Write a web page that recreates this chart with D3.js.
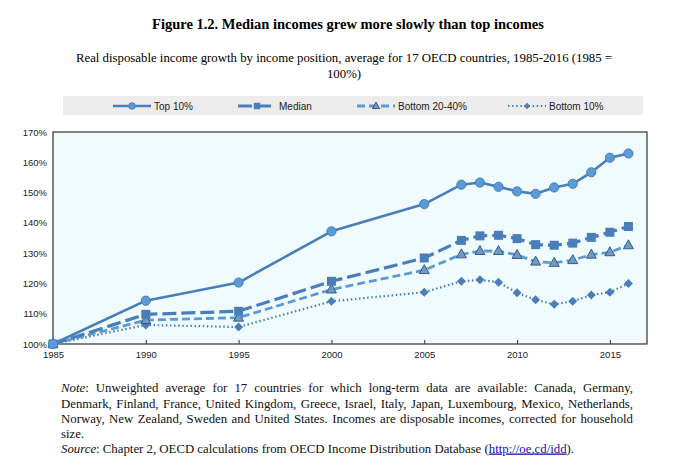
<!DOCTYPE html>
<html>
<head>
<meta charset="utf-8">
<script src="https://cdn.jsdelivr.net/npm/d3@7"></script>
<style>
  body { margin: 0; background: #fff; }
  svg { display: block; }
</style>
</head>
<body>
<svg id="chart" width="678" height="469"></svg>
<script>
// Data (1985 = 100%)
const years = [1985, 1990, 1995, 2000, 2005, 2007, 2008, 2009, 2010, 2011, 2012, 2013, 2014, 2015, 2016];
const top10 = [100, 114.3, 120.3, 137.2, 146.2, 152.6, 153.3, 151.9, 150.4, 149.6, 151.7, 152.9, 156.7, 161.5, 162.9];
const median = [100, 109.8, 110.8, 120.7, 128.4, 134.2, 135.7, 135.9, 134.8, 132.8, 132.6, 133.3, 135.2, 136.9, 138.8];
const bottom2040 = [100, 107.9, 108.7, 118.0, 124.4, 129.6, 130.7, 130.7, 129.4, 127.2, 126.8, 127.7, 129.5, 130.3, 132.6];
const bottom10 = [100, 106.3, 105.6, 114.1, 117.1, 120.7, 121.2, 120.4, 116.9, 114.6, 113.1, 114.1, 116.2, 117.1, 120.0];
const xTicks = [1985, 1990, 1995, 2000, 2005, 2010, 2015];
const yTicks = [100, 110, 120, 130, 140, 150, 160, 170];

const series = [
  { name: "Top 10%", values: top10, stroke: "#4a7ebb", width: 2.6, dash: null, marker: "circle", fill: "#5b9bd5" },
  { name: "Median", values: median, stroke: "#4a7ebb", width: 3.2, dash: "14,5", marker: "square", fill: "#4a7ebb" },
  { name: "Bottom 20-40%", values: bottom2040, stroke: "#5b9bd5", width: 2.8, dash: "8,4", marker: "triangle", fill: "#6f9ac8" },
  { name: "Bottom 10%", values: bottom10, stroke: "#4a7ebb", width: 2.2, dash: "1.5,2.6", marker: "diamond", fill: "#4a7ebb" }
];

const svg = d3.select("#chart");
const serif = "'Liberation Serif', 'Times New Roman', serif";
const sans = "'Liberation Sans Narrow', 'Liberation Sans', Arial, sans-serif";

// Titles
svg.append("text")
  .attr("x", 348).attr("y", 29)
  .attr("text-anchor", "middle")
  .style("font-family", serif).style("font-size", "14.5px").style("font-weight", "bold")
  .text("Figure 1.2. Median incomes grew more slowly than top incomes");

const sub = svg.append("text")
  .attr("text-anchor", "middle")
  .style("font-family", serif).style("font-size", "12.8px");
sub.append("tspan").attr("x", 344).attr("y", 62)
  .text("Real disposable income growth by income position, average for 17 OECD countries, 1985-2016 (1985 =");
sub.append("tspan").attr("x", 344).attr("y", 78).text("100%)");

// Plot area
const plotLeft = 53, plotTop = 132, plotRight = 647, plotBottom = 344;

const x = d3.scaleLinear().domain([1985, 2017]).range([plotLeft, plotRight]);
const y = d3.scaleLinear().domain([100, 170]).range([plotBottom, plotTop]);

svg.append("rect")
  .attr("x", plotLeft).attr("y", plotTop)
  .attr("width", plotRight - plotLeft).attr("height", plotBottom - plotTop)
  .attr("fill", "#f0fbfd");

// Axes
const xAxis = d3.axisBottom(x).tickValues(xTicks).tickFormat(d3.format("d")).tickSize(-4).tickPadding(7);
const gx = svg.append("g").attr("transform", `translate(0,${plotBottom})`).call(xAxis);
gx.select(".domain").remove();
gx.selectAll("text").style("font-family", sans).style("font-size", "9.5px").attr("fill", "#222");
gx.selectAll("line").attr("stroke", "#333");

const yAxis = d3.axisLeft(y).tickValues(yTicks).tickFormat(d => d + "%").tickSize(0).tickPadding(6);
const gy = svg.append("g").attr("transform", `translate(${plotLeft},0)`).call(yAxis);
gy.select(".domain").remove();
gy.selectAll("text").style("font-family", sans).style("font-size", "9.5px").attr("fill", "#222");

svg.append("rect")
  .attr("x", plotLeft).attr("y", plotTop)
  .attr("width", plotRight - plotLeft).attr("height", plotBottom - plotTop)
  .attr("fill", "none").attr("stroke", "#333").attr("stroke-width", 1.2);

// Markers
function drawMarker(g, type, cx, cy, s, k) {
  k = k || 1;
  if (type === "circle") {
    g.append("circle").attr("cx", cx).attr("cy", cy).attr("r", 4.6 * k)
      .attr("fill", s.fill).attr("stroke", "#4a7ebb").attr("stroke-width", 1);
  } else if (type === "square") {
    g.append("rect").attr("x", cx - 4.5 * k).attr("y", cy - 4.5 * k).attr("width", 9 * k).attr("height", 9 * k)
      .attr("fill", s.fill);
  } else if (type === "triangle") {
    g.append("path")
      .attr("d", `M${cx},${cy - 5.5 * k}L${cx + 5 * k},${cy + 3.5 * k}L${cx - 5 * k},${cy + 3.5 * k}Z`)
      .attr("fill", s.fill).attr("stroke", "#2f4f72").attr("stroke-width", 0.9);
  } else if (type === "diamond") {
    g.append("path")
      .attr("d", `M${cx},${cy - 4.5 * k}L${cx + 4.5 * k},${cy}L${cx},${cy + 4.5 * k}L${cx - 4.5 * k},${cy}Z`)
      .attr("fill", s.fill);
  }
}

const line = d3.line().x(d => x(d[0])).y(d => y(d[1]));

// draw bottom series first so Top 10% sits on top
series.slice().reverse().forEach(s => {
  const pts = years.map((yr, i) => [yr, s.values[i]]);
  const g = svg.append("g");
  g.append("path")
    .datum(pts)
    .attr("d", line)
    .attr("fill", "none")
    .attr("stroke", s.stroke)
    .attr("stroke-width", s.width)
    .attr("stroke-dasharray", s.dash)
    .attr("stroke-linejoin", "round");
  pts.forEach(p => drawMarker(g, s.marker, x(p[0]), y(p[1]), s));
});

// Legend
svg.append("rect")
  .attr("x", 63).attr("y", 96).attr("width", 580).attr("height", 19)
  .attr("fill", "#ececec");

const legendX = [113, 238, 357, 508];
series.forEach((s, i) => {
  const g = svg.append("g");
  const x0 = legendX[i], ly = 106;
  g.append("line")
    .attr("x1", x0).attr("x2", x0 + 38).attr("y1", ly).attr("y2", ly)
    .attr("stroke", s.stroke).attr("stroke-width", s.width)
    .attr("stroke-dasharray", s.dash);
  drawMarker(g, s.marker, x0 + 19, ly, s, 0.72);
  g.append("text")
    .attr("x", x0 + 41).attr("y", ly + 3.5)
    .style("font-family", sans).style("font-size", "10px").attr("fill", "#222")
    .text(s.name);
});

// Note and source, justified like the original
const noteLines = [
  [{ t: "Note", i: true }, { t: ": Unweighted average for 17 countries for which long-term data are available: Canada, Germany," }],
  [{ t: "Denmark, Finland, France, United Kingdom, Greece, Israel, Italy, Japan, Luxembourg, Mexico, Netherlands," }],
  [{ t: "Norway, New Zealand, Sweden and United States. Incomes are disposable incomes, corrected for household" }],
  [{ t: "size." }]
];
const noteLeft = 61, noteRight = 633;
const noteY = [392, 407.5, 422.5, 437.5];

noteLines.forEach((parts, li) => {
  // split into words, keeping the italic flag of each piece
  const words = [];
  parts.forEach(p => {
    p.t.split(/(\s+)/).forEach(w => {
      if (w === "") return;
      if (w.trim() === "") { if (words.length) words[words.length - 1].space = true; return; }
      if (words.length && !words[words.length - 1].space) {
        words[words.length - 1].pieces.push({ t: w, i: p.i });
      } else {
        words.push({ pieces: [{ t: w, i: p.i }], space: false });
      }
    });
  });
  const g = svg.append("g");
  const nodes = words.map(w => {
    const t = g.append("text").attr("y", noteY[li])
      .style("font-family", serif).style("font-size", "12.8px").attr("fill", "#111");
    w.pieces.forEach(pc => t.append("tspan").style("font-style", pc.i ? "italic" : "normal").text(pc.t));
    return t;
  });
  const widths = nodes.map(n => n.node().getComputedTextLength());
  const total = d3.sum(widths);
  const justify = li < noteLines.length - 1;
  const gap = justify && nodes.length > 1 ? (noteRight - noteLeft - total) / (nodes.length - 1) : 3.2;
  let cx = noteLeft;
  nodes.forEach((n, k) => { n.attr("x", cx); cx += widths[k] + gap; });
});

const src = svg.append("text").attr("x", noteLeft).attr("y", 452.5)
  .style("font-family", serif).style("font-size", "12.8px").attr("fill", "#111");
src.append("tspan").style("font-style", "italic").text("Source");
src.append("tspan").text(": Chapter 2, OECD calculations from OECD Income Distribution Database (");
src.append("tspan").attr("fill", "#1a0dab").style("text-decoration", "underline").text("http://oe.cd/idd");
src.append("tspan").text(").");
</script>
</body>
</html>
